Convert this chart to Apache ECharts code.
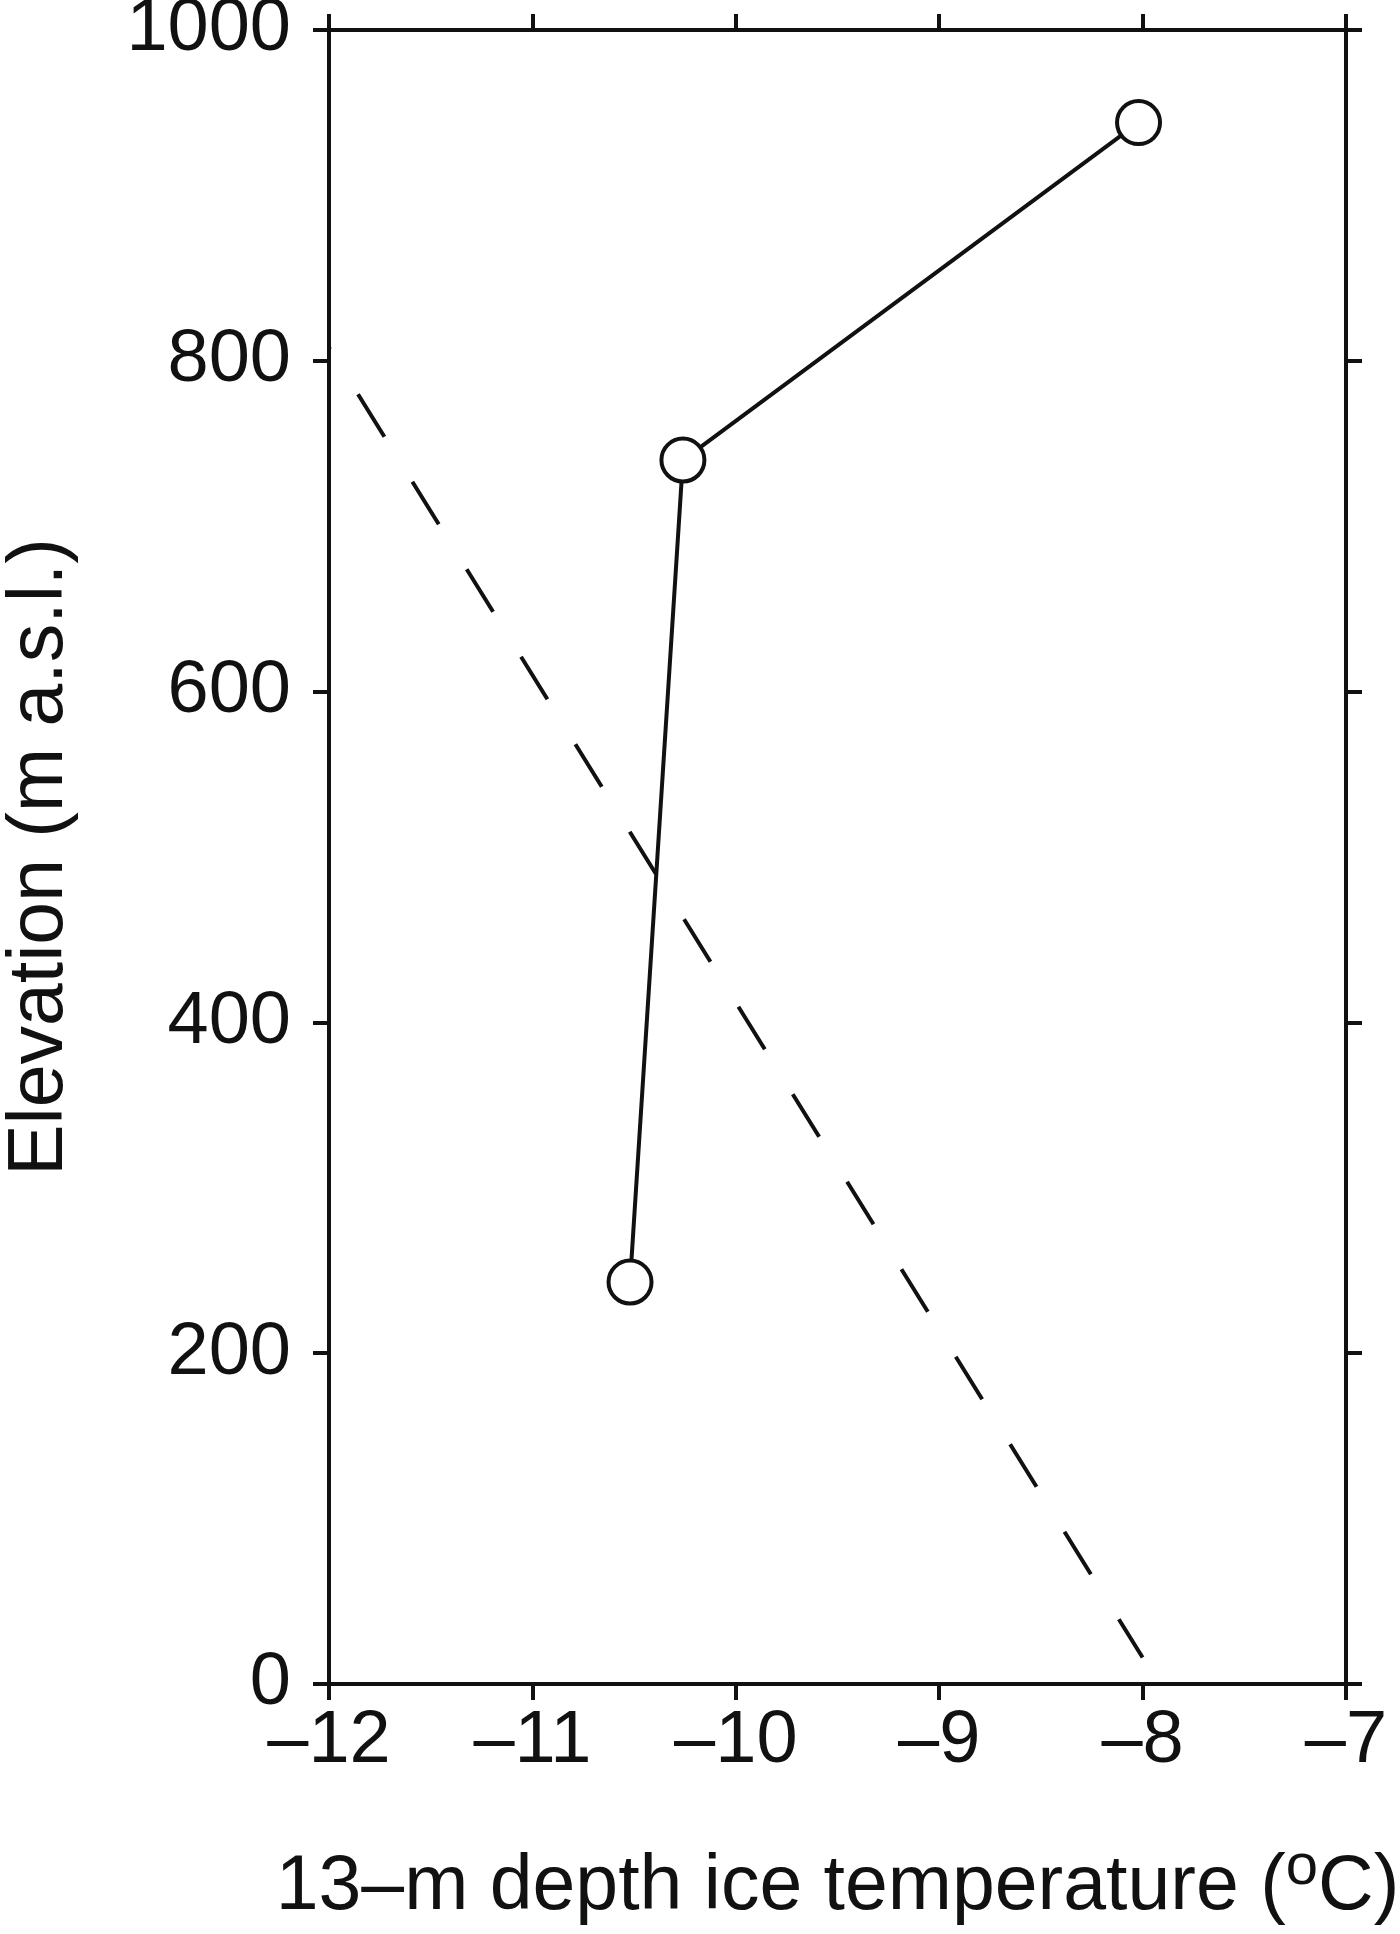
<!DOCTYPE html>
<html>
<head>
<meta charset="utf-8">
<script src="https://cdn.jsdelivr.net/npm/echarts@6/dist/echarts.min.js"></script>
<style>
html,body{margin:0;padding:0;background:#fff;}
#chart{width:1400px;height:1934px;}
</style>
</head>
<body>
<div id="chart"></div>
<script>
// Data
const temperature = [-10.52, -10.26, -8.02];      // 13-m depth ice temperature (°C)
const elevation   = [243, 740, 944];              // Elevation (m a.s.l.)
const refLineTemp = [-12, -8];                    // dashed reference line
const refLineElev = [808, 16];
const xTicks = [-12, -11, -10, -9, -8, -7];
const yTicks = [0, 200, 400, 600, 800, 1000];

const FONT = '"Liberation Sans", Arial, Helvetica, sans-serif';
const black = '#111';
const LW = 4;

const obs = temperature.map((t, i) => [t, elevation[i]]);
const ref = refLineTemp.map((t, i) => [t, refLineElev[i]]);

const axisCommon = {
  type: 'value',
  axisLine: { show: true, onZero: false, lineStyle: { color: black, width: LW } },
  axisTick: { show: true, inside: false, length: 16, lineStyle: { color: black, width: LW } },
  splitLine: { show: false }
};

const chart = echarts.init(document.getElementById('chart'), null, { renderer: 'canvas' });
chart.setOption({
  backgroundColor: '#fff',
  animation: false,
  grid: { left: 329, right: 54, top: 30, bottom: 250, containLabel: false, outerBoundsMode: 'none' },
  xAxis: [
    Object.assign({}, axisCommon, {
      position: 'bottom',
      min: xTicks[0], max: xTicks[xTicks.length - 1], interval: 1,
      axisLabel: {
        color: black, fontSize: 74, fontFamily: FONT, margin: 21,
        formatter: v => (v < 0 ? '\u2013' + Math.abs(v) : String(v))
      },
      name: '{n|13\u2013m depth ice temperature (}{s|o}{n|C)}',
      nameLocation: 'middle',
      nameGap: 155,
      nameTextStyle: {
        color: black, fontFamily: FONT,
        rich: {
          n: { fontSize: 77, fontFamily: FONT, color: black },
          s: { fontSize: 58, fontFamily: FONT, color: black, verticalAlign: 'top', padding: [0, 0, 40, 0] }
        }
      }
    }),
    Object.assign({}, axisCommon, {
      position: 'top',
      min: xTicks[0], max: xTicks[xTicks.length - 1], interval: 1,
      axisLabel: { show: false }
    })
  ],
  yAxis: [
    Object.assign({}, axisCommon, {
      position: 'left',
      min: yTicks[0], max: yTicks[yTicks.length - 1], interval: 200,
      axisLabel: { color: black, fontSize: 74, fontFamily: FONT, margin: 38, formatter: v => String(v) },
      name: 'Elevation (m a.s.l.)',
      nameLocation: 'middle',
      nameRotate: 90,
      nameGap: 250,
      nameTextStyle: { color: black, fontSize: 77, fontFamily: FONT }
    }),
    Object.assign({}, axisCommon, {
      position: 'right',
      min: yTicks[0], max: yTicks[yTicks.length - 1], interval: 200,
      axisLabel: { show: false }
    })
  ],
  series: [
    {
      type: 'line',
      data: ref,
      xAxisIndex: 0, yAxisIndex: 0,
      symbol: 'none',
      z: 2,
      lineStyle: { color: black, width: LW, type: [50, 53], dashOffset: 48, cap: 'butt' }
    },
    {
      type: 'line',
      data: obs,
      xAxisIndex: 0, yAxisIndex: 0,
      symbol: 'circle',
      symbolSize: 43,
      z: 3,
      lineStyle: { color: black, width: LW },
      itemStyle: { color: '#fff', borderColor: black, borderWidth: LW }
    }
  ]
});
</script>
</body>
</html>
